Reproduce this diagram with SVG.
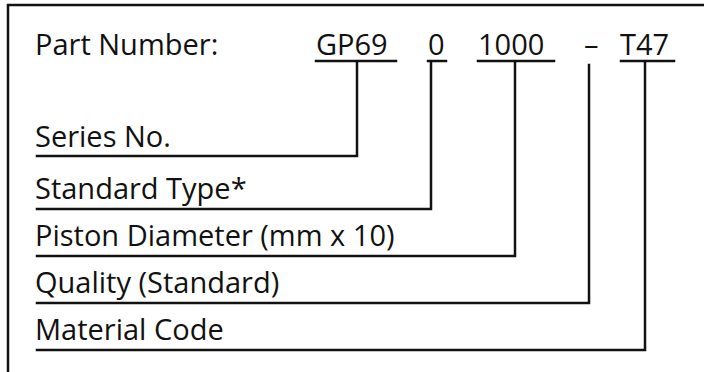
<svg xmlns="http://www.w3.org/2000/svg" width="704" height="372" viewBox="0 0 704 372">
<style>
text{font-family:"Open Sans","Noto Sans","Liberation Sans",sans-serif;font-size:29px;fill:#111}
.ln{fill:none;stroke:#111;stroke-width:2.5;stroke-linecap:square;stroke-linejoin:miter}
</style>
<rect width="704" height="372" fill="#fff"/>
<path id="frame" class="ln" d="M8,374 V5 H706"/>
<g id="header">
<text x="35" y="55">Part Number:</text>
</g>
<g id="code-GP69"><text x="316" y="55">GP69</text></g>
<g id="code-0"><text x="428" y="55">0</text></g>
<g id="code-1000"><text x="478" y="55">1000</text></g>
<g id="code-dash"><text x="584" y="55">–</text></g>
<g id="code-T47"><text x="620" y="55">T47</text></g>
<g id="label-series"><text x="35" y="147">Series No.</text></g>
<g id="label-standard"><text x="35" y="199">Standard Type*</text></g>
<g id="label-piston"><text x="35" y="246">Piston Diameter (mm x 10)</text></g>
<g id="label-quality"><text x="35" y="293">Quality (Standard)</text></g>
<g id="label-material"><text x="35" y="340">Material Code</text></g>
<g id="connectors">
<path class="ln" d="M316,61 H396"/>
<path class="ln" d="M428,61 H446"/>
<path class="ln" d="M478,61 H554"/>
<path class="ln" d="M621,61 H674"/>
<path class="ln" d="M37,156 H357 V62"/>
<path class="ln" d="M37,209 H431 V62"/>
<path class="ln" d="M37,256 H515 V62"/>
<path class="ln" d="M37,303 H589 V65"/>
<path class="ln" d="M37,350 H645 V62"/>
</g>
</svg>
